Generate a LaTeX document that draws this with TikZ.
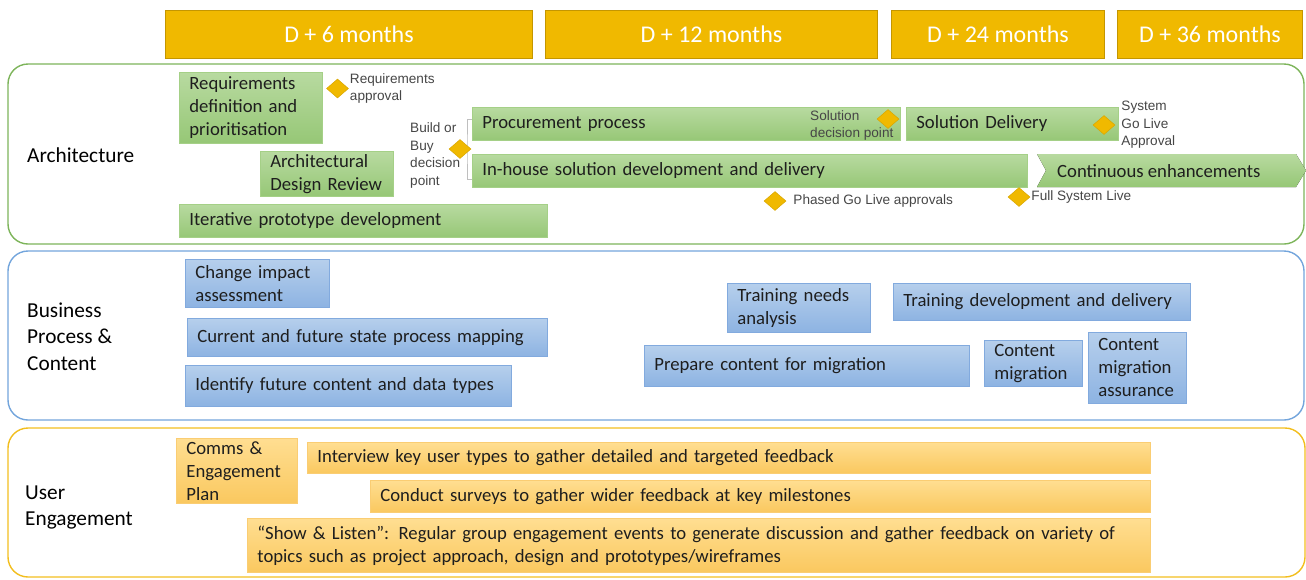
\documentclass[tikz,border=0pt]{standalone}
\usepackage{fontspec}
\setmainfont{Carlito}
\newfontfamily\notefamily{Liberation Sans}
\usetikzlibrary{
    positioning,
    shapes.geometric
    }

\definecolor{gold}{RGB}{240,185,0}
\definecolor{golddark}{RGB}{196,150,0}
\definecolor{archline}{RGB}{125,180,90}
\definecolor{archtop}{RGB}{184,218,160}
\definecolor{archbot}{RGB}{150,199,118}
\definecolor{archedge}{RGB}{165,208,135}
\definecolor{bizline}{RGB}{115,165,220}
\definecolor{biztop}{RGB}{182,207,236}
\definecolor{bizbot}{RGB}{141,179,226}
\definecolor{bizedge}{RGB}{130,170,222}
\definecolor{userline}{RGB}{242,190,30}
\definecolor{usertop}{RGB}{255,222,145}
\definecolor{userbot}{RGB}{250,200,95}
\definecolor{useredge}{RGB}{250,205,115}
\definecolor{notegray}{RGB}{70,70,70}
\definecolor{bartext}{RGB}{30,30,30}

\newcommand{\barfont}{\fontsize{18.7}{23}\selectfont}
\newcommand{\lanefont}{\fontsize{21.3}{26.5}\selectfont}
\newcommand{\periodfont}{\fontsize{24}{28}\selectfont}
\newcommand{\notefont}{\notefamily\fontsize{13.6}{17.6}\selectfont}

\begin{document}
\begin{tikzpicture}[x=1pt, y=-1pt]
\tikzset{period/.style =
        {
            anchor=north west,
            fill=gold,
            draw=golddark,
            line width=1pt,
            minimum height=48pt,
            inner sep=0pt,
            text=white,
            font=\periodfont
        }
}

\tikzset{lane/.style =
        {
            rounded corners=20pt,
            line width=1.4pt
        }
}

\tikzset{lane label/.style =
        {
            anchor=west,
            align=left,
            inner sep=0pt,
            font=\lanefont
        }
}

\tikzset{bar/.style =
        {
            anchor=north west,
            align=left,
            inner xsep=10pt,
            inner ysep=0pt,
            line width=0.8pt,
            text=bartext,
            font=\barfont,
            draw
        }
}

\tikzset{arch bar/.style = {bar, top color=archtop, bottom color=archbot, draw=archedge}}
\tikzset{biz bar/.style = {bar, top color=biztop, bottom color=bizbot, draw=bizedge}}
\tikzset{user bar/.style = {bar, top color=usertop, bottom color=userbot, draw=useredge}}

\tikzset{milestone/.style =
        {
            shape=diamond,
            fill=gold,
            draw=gold!90!black,
            line width=0.5pt,
            minimum width=22pt,
            minimum height=19pt,
            inner sep=0pt
        }
}

\tikzset{note/.style =
        {
            align=left,
            inner sep=0pt,
            text=notegray,
            font=\notefont
        }
}

\tikzset{bracket/.style = {gray!50, line width=0.8pt}}

\useasboundingbox (0,0) rectangle (1306,579);
\clip (0,0) rectangle (1306,579);

% time line
\foreach \name / \x / \w / \label in
    {p6/165/367/D + 6 months,
     p12/545/332/D + 12 months,
     p24/891/213/D + 24 months,
     p36/1117/185/D + 36 months}
\node[period, minimum width=\w pt] (\name) at (\x,10) {\label};

% swim lanes
\draw[lane, archline] (8,64) rectangle (1304,244);
\draw[lane, bizline] (8,251) rectangle (1304,420);
\draw[lane, userline] (8,428) rectangle (1305,577);

\node[lane label] (arch) at (27,155) {Architecture};
\node[lane label] (biz) at (27,336.5) {Business\\Process \&\\Content};
\node[lane label] (user) at (25,507.5) {User\\Engagement};

% architecture
\node[arch bar, text width=123pt, minimum height=71pt] (req) at (179,72) {Requirements\\definition and\\prioritisation};
\node[arch bar, text width=113pt, minimum height=45pt] (adr) at (260,151) {Architectural\\Design Review};
\node[arch bar, text width=348pt, minimum height=33pt] (proto) at (179,204) {Iterative prototype development};
\node[arch bar, text width=408pt, minimum height=33pt] (procure) at (472,107) {Procurement process};
\node[arch bar, text width=192pt, minimum height=33pt] (deliver) at (906,107) {Solution Delivery};
\node[arch bar, text width=535pt, minimum height=33pt] (inhouse) at (472,154) {In-house solution development and delivery};

\fill[top color=archtop, bottom color=archbot] (1037,154) -- (1296,154) -- (1306,170.5) -- (1296,187) -- (1037,187) -- (1046,170.5) -- cycle;
\node[anchor=west, inner sep=0pt, text=bartext, font=\barfont] (enhance) at (1057,171) {Continuous enhancements};

\coordinate (fork) at (467,149);
\draw[bracket] ([yshift=4.5pt]procure.west) -| (fork) |- ([yshift=-8.5pt]inhouse.west);

\foreach \name / \x / \y in
    {reqok/337.5/88.5,
     buildbuy/460/149,
     choice/888/119,
     golive/1104/125,
     phased/775/201,
     fullsys/1019/197}
\node[milestone] (\name) at (\x,\y) {};

\node[note, right=1pt of reqok] (reqok text) {Requirements\\approval};
\node[note, anchor=west] (buildbuy text) at (410,155.5) {Build or\\Buy\\decision\\point};
\node[note, anchor=west] (choice text) at (810,125.5) {Solution\\decision point};
\node[note, right=6pt of golive] (golive text) {System\\Go Live\\Approval};
\node[note, right=7pt of phased] (phased text) {Phased Go Live approvals};
\node[note, right=1pt of fullsys] (fullsys text) {Full System Live};

% business process and content
\node[biz bar, text width=124pt, minimum height=48pt] (impact) at (185,259) {Change impact\\assessment};
\node[biz bar, text width=340pt, minimum height=38pt] (mapping) at (187,318) {Current and future state process mapping};
\node[biz bar, text width=306pt, minimum height=41pt] (types) at (185,365) {Identify future content and data types};
\node[biz bar, text width=123pt, minimum height=49pt] (needs) at (727,283) {Training needs\\analysis};
\node[biz bar, text width=277pt, minimum height=37pt] (training) at (893,283) {Training development and delivery};
\node[biz bar, text width=305pt, minimum height=41pt] (prepare) at (644,345) {Prepare content for migration};
\node[biz bar, text width=78pt, minimum height=46pt] (migrate) at (984,340) {Content\\migration};
\node[biz bar, text width=78pt, minimum height=71pt] (assure) at (1088,332) {Content\\migration\\assurance};

% user engagement
\node[user bar, text width=101pt, minimum height=65pt] (comms) at (176,438) {Comms \&\\Engagement\\Plan};
\node[user bar, text width=823pt, minimum height=31pt] (interview) at (307,442) {Interview key user types to gather detailed and targeted feedback};
\node[user bar, text width=760pt, minimum height=32pt] (surveys) at (370,480) {Conduct surveys to gather wider feedback at key milestones};
\node[user bar, text width=883pt, minimum height=54pt] (listen) at (247,518) {“Show \& Listen”: Regular group engagement events to generate discussion and gather feedback on variety of\\topics such as project approach, design and prototypes/wireframes};

\end{tikzpicture}
\end{document}
